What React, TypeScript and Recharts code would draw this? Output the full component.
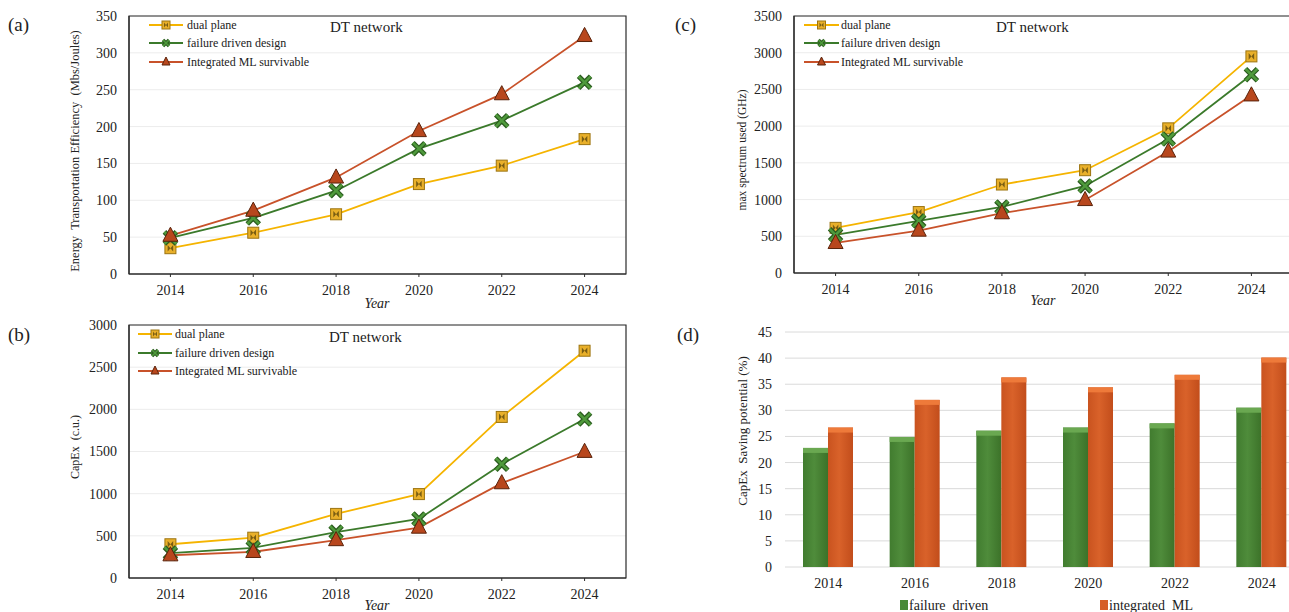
import { Bar, BarChart, CartesianGrid, Legend, Line, LineChart, ReferenceArea, XAxis, YAxis } from "recharts"

const SERIF = "'Liberation Serif', 'Times New Roman', Times, serif"

const years = [2014, 2016, 2018, 2020, 2022, 2024]
const yearTicks = [2014, 2016, 2018, 2020, 2022, 2024]
const barYears = ["2014", "2016", "2018", "2020", "2022", "2024"]

const seriesNames = ["dual plane", "failure driven design", "Integrated ML survivable"]
const barNames = ["failure  driven", "integrated  ML"]

// (a) energy transportation efficiency (Mbs/Joules)
const efficiencyDual = [35, 56, 81, 122, 147, 183]
const efficiencyFailure = [49, 76, 113, 170, 208, 260]
const efficiencyML = [52, 86, 131, 194, 244, 323]
const efficiencyTicks = [0, 50, 100, 150, 200, 250, 300, 350]

// (b) CapEx (c.u.)
const capexDual = [400, 478, 760, 995, 1910, 2695]
const capexFailure = [295, 358, 545, 700, 1350, 1885]
const capexML = [270, 310, 450, 598, 1125, 1497]
const capexTicks = [0, 500, 1000, 1500, 2000, 2500, 3000]

// (c) max spectrum used (GHz)
const spectrumDual = [615, 830, 1205, 1400, 1970, 2950]
const spectrumFailure = [520, 710, 900, 1185, 1825, 2700]
const spectrumML = [410, 578, 815, 995, 1655, 2420]
const spectrumTicks = [0, 500, 1000, 1500, 2000, 2500, 3000, 3500]

// (d) CapEx saving potential (%)
const savingFailure = [22.8, 24.9, 26.1, 26.7, 27.5, 30.5]
const savingML = [26.7, 32.0, 36.3, 34.4, 36.8, 40.1]
const savingTicks = [0, 5, 10, 15, 20, 25, 30, 35, 40, 45]

const COLORS = { dual: "#f5b400", failure: "#3b7a2b", ml: "#c8522a" }

const toLineData = (a: number[], b: number[], c: number[]) =>
  years.map((year, i) => ({ year, dual: a[i], failure: b[i], ml: c[i] }))

const efficiencyData = toLineData(efficiencyDual, efficiencyFailure, efficiencyML)
const capexData = toLineData(capexDual, capexFailure, capexML)
const spectrumData = toLineData(spectrumDual, spectrumFailure, spectrumML)
const savingData = barYears.map((year, i) => ({ year, failure: savingFailure[i], ml: savingML[i] }))

function SquareMark({ cx, cy, s = 11 }: { cx: number; cy: number; s?: number }) {
  const h = s / 2
  return (
    <g>
      <rect x={cx - h} y={cy - h} width={s} height={s} fill="#e9b02a" stroke="#9c7410" strokeWidth={1} />
      <path
        d={`M${cx - h * 0.5},${cy - h * 0.6}L${cx + h * 0.5},${cy + h * 0.6}L${cx + h * 0.5},${cy - h * 0.6}L${cx - h * 0.5},${cy + h * 0.6}Z`}
        fill="#4a3a08"
        opacity={0.7}
      />
    </g>
  )
}

function CrossMark({ cx, cy, s = 12 }: { cx: number; cy: number; s?: number }) {
  const h = s / 2
  const d = `M${cx - h},${cy - h}L${cx + h},${cy + h}M${cx + h},${cy - h}L${cx - h},${cy + h}`
  return (
    <g>
      <path d={d} stroke="#2b5c1f" strokeWidth={s > 9 ? 5 : 3.5} />
      <path d={d} stroke="#4f9a3c" strokeWidth={s > 9 ? 2.5 : 1.6} />
    </g>
  )
}

function TriMark({ cx, cy, s = 15 }: { cx: number; cy: number; s?: number }) {
  const h = s / 2
  return (
    <polygon
      points={`${cx},${cy - h - 1} ${cx + h},${cy + h * 0.75} ${cx - h},${cy + h * 0.75}`}
      fill="#b8471d"
      stroke="#5a230b"
      strokeWidth={1}
    />
  )
}

type DotProps = { cx?: number; cy?: number; index?: number }
const squareDot = (p: DotProps) => <SquareMark key={`s${p.index}`} cx={p.cx ?? 0} cy={p.cy ?? 0} />
const crossDot = (p: DotProps) => <CrossMark key={`c${p.index}`} cx={p.cx ?? 0} cy={p.cy ?? 0} />
const triDot = (p: DotProps) => <TriMark key={`t${p.index}`} cx={p.cx ?? 0} cy={p.cy ?? 0} />

interface LegendLayout {
  x0: number
  x1: number
  textX: number
  rows: number[]
  titleX: number
  titleY: number
}

function LineLegend({ x0, x1, textX, rows, titleX, titleY }: LegendLayout) {
  const mid = (x0 + x1) / 2
  const marks = [
    <SquareMark cx={mid} cy={rows[0]} s={8} />,
    <CrossMark cx={mid} cy={rows[1]} s={6} />,
    <TriMark cx={mid} cy={rows[2]} s={8} />,
  ]
  const cols = [COLORS.dual, COLORS.failure, COLORS.ml]
  return (
    <svg width={660} height={80} style={{ display: "block", overflow: "visible" }}>
      {seriesNames.map((name, i) => (
        <g key={name}>
          <line x1={x0} x2={x1} y1={rows[i]} y2={rows[i]} stroke={cols[i]} strokeWidth={2} />
          {marks[i]}
          <text x={textX} y={rows[i]} dominantBaseline="central" fontSize={12} fill="#222" fontFamily={SERIF}>
            {name}
          </text>
        </g>
      ))}
      <text x={titleX} y={titleY} dominantBaseline="central" fontSize={15} fill="#222" fontFamily={SERIF}>
        DT network
      </text>
    </svg>
  )
}

interface PanelProps {
  data: { year: number; dual: number; failure: number; ml: number }[]
  yTicks: number[]
  width: number
  height: number
  margin: { top: number; right: number; bottom: number; left: number }
  yAxisWidth: number
  yLabel: string
  yLabelX: number
  yLabelY: number
  yLabelSize: number
  yearX: number
  yearY: number
  legend: LegendLayout
}

function LinePanel(p: PanelProps) {
  const yMax = p.yTicks[p.yTicks.length - 1]
  return (
    <LineChart width={p.width} height={p.height} data={p.data} margin={p.margin}>
      <CartesianGrid vertical={false} stroke="#ececec" />
      <ReferenceArea x1={2013} x2={2025} y1={0} y2={yMax} fill="none" stroke="#2b2b2b" strokeWidth={1.2} />
      <XAxis
        type="number"
        dataKey="year"
        domain={[2013, 2025]}
        ticks={yearTicks}
        height={30}
        tickSize={3}
        tickMargin={8}
        axisLine={{ stroke: "#2b2b2b", strokeWidth: 1.2 }}
        tickLine={{ stroke: "#2b2b2b" }}
        tick={{ fontSize: 14, fill: "#222", fontFamily: SERIF }}
        label={() => (
          <text x={p.yearX} y={p.yearY} textAnchor="middle" dominantBaseline="central" fontSize={14} fontStyle="italic" fill="#222" fontFamily={SERIF}>
            Year
          </text>
        )}
      />
      <YAxis
        type="number"
        domain={[0, yMax]}
        ticks={p.yTicks}
        width={p.yAxisWidth}
        tickLine={false}
        tickSize={6}
        tickMargin={6}
        axisLine={{ stroke: "#2b2b2b", strokeWidth: 1.2 }}
        tick={{ fontSize: 14, fill: "#222", fontFamily: SERIF }}
        label={() => (
          <text
            x={p.yLabelX}
            y={p.yLabelY}
            textAnchor="middle"
            dominantBaseline="central"
            transform={`rotate(-90 ${p.yLabelX} ${p.yLabelY})`}
            fontSize={p.yLabelSize}
            fill="#222"
            fontFamily={SERIF}
            style={{ whiteSpace: "pre" }}
          >
            {p.yLabel}
          </text>
        )}
      />
      <Legend
        layout="horizontal"
        verticalAlign="middle"
        align="center"
        wrapperStyle={{ left: 0, top: 0, width: 660, height: 80 }}
        content={() => <LineLegend {...p.legend} />}
      />
      <Line dataKey="dual" stroke={COLORS.dual} strokeWidth={1.8} dot={squareDot} activeDot={false} isAnimationActive={false} />
      <Line dataKey="failure" stroke={COLORS.failure} strokeWidth={1.8} dot={crossDot} activeDot={false} isAnimationActive={false} />
      <Line dataKey="ml" stroke={COLORS.ml} strokeWidth={1.8} dot={triDot} activeDot={false} isAnimationActive={false} />
    </LineChart>
  )
}

type BarShapeProps = { x?: number; y?: number; width?: number; height?: number }
const makeBarShape = (grad: string, cap: string) => (props: BarShapeProps) => {
  const { x = 0, y = 0, width = 0, height = 0 } = props
  return (
    <g>
      <rect x={x} y={y} width={width} height={height} fill={`url(#${grad})`} />
      <rect x={x} y={y} width={width} height={Math.min(5, height)} fill={cap} />
    </g>
  )
}

function SavingPanel() {
  return (
    <BarChart width={670} height={302} data={savingData} margin={{ top: 22, right: 5, bottom: 20, left: 0 }} barGap={0}>
      <defs>
        <linearGradient id="gGreen" x1="0" x2="1" y1="0" y2="0">
          <stop offset="0%" stopColor="#417c2f" />
          <stop offset="45%" stopColor="#4f8c3b" />
          <stop offset="100%" stopColor="#3c7229" />
        </linearGradient>
        <linearGradient id="gOrange" x1="0" x2="1" y1="0" y2="0">
          <stop offset="0%" stopColor="#c9531f" />
          <stop offset="45%" stopColor="#d9622a" />
          <stop offset="100%" stopColor="#c24d1b" />
        </linearGradient>
      </defs>
      <CartesianGrid vertical={false} stroke="#dadada" />
      <XAxis
        dataKey="year"
        height={25}
        axisLine={false}
        tickLine={false}
        tickSize={6}
        tickMargin={5}
        tick={{ fontSize: 14, fill: "#222", fontFamily: SERIF }}
      />
      <YAxis
        domain={[0, 45]}
        ticks={savingTicks}
        width={145}
        axisLine={false}
        tickLine={false}
        tickSize={6}
        tickMargin={7}
        tick={{ fontSize: 14, fill: "#222", fontFamily: SERIF }}
        label={() => (
          <text
            x={102}
            y={121}
            textAnchor="middle"
            dominantBaseline="central"
            transform="rotate(-90 102 121)"
            fontSize={13}
            fill="#222"
            fontFamily={SERIF}
            style={{ whiteSpace: "pre" }}
          >
            {"CapEx  Saving potential (%)"}
          </text>
        )}
      />
      <Legend
        layout="horizontal"
        verticalAlign="middle"
        align="center"
        wrapperStyle={{ left: 0, top: 280, width: 670, height: 22 }}
        content={() => (
          <svg width={670} height={22} style={{ display: "block" }}>
            <rect x={260} y={10} width={8} height={10} fill="#4a8a36" />
            <text x={269} y={15} dominantBaseline="central" fontSize={14} fill="#222" fontFamily={SERIF} style={{ whiteSpace: "pre" }}>
              {barNames[0]}
            </text>
            <rect x={460} y={10} width={8} height={10} fill="#d65f26" />
            <text x={469} y={15} dominantBaseline="central" fontSize={14} fill="#222" fontFamily={SERIF} style={{ whiteSpace: "pre" }}>
              {barNames[1]}
            </text>
          </svg>
        )}
      />
      <Bar dataKey="failure" barSize={25} shape={makeBarShape("gGreen", "#6aa851")} isAnimationActive={false} />
      <Bar dataKey="ml" barSize={25} shape={makeBarShape("gOrange", "#ee7a3a")} isAnimationActive={false} />
    </BarChart>
  )
}

const panelLetter = (text: string, left: number, top: number) => (
  <div style={{ position: "absolute", left, top, fontSize: 19, lineHeight: "19px", fontFamily: SERIF, color: "#222" }}>{text}</div>
)

export default function App() {
  return (
    <div style={{ position: "absolute", left: 0, top: 0, width: 1289, height: 612, overflow: "hidden", background: "#fff", fontFamily: SERIF }}>
      {panelLetter("(a)", 8, 15)}
      {panelLetter("(c)", 675, 15)}
      {panelLetter("(b)", 8, 325)}
      {panelLetter("(d)", 677, 325)}

      <div style={{ position: "absolute", left: 0, top: 0 }}>
        <LinePanel
          data={efficiencyData}
          yTicks={efficiencyTicks}
          width={640}
          height={310}
          margin={{ top: 16, right: 14, bottom: 6, left: 0 }}
          yAxisWidth={129}
          yLabel="Energy  Transportation Efficiency  (Mbs/Joules)"
          yLabelX={75}
          yLabelY={151}
          yLabelSize={12.5}
          yearX={377}
          yearY={303}
          legend={{ x0: 149, x1: 183, textX: 187, rows: [25, 43, 62], titleX: 330, titleY: 27 }}
        />
      </div>

      <div style={{ position: "absolute", left: 0, top: 310 }}>
        <LinePanel
          data={capexData}
          yTicks={capexTicks}
          width={640}
          height={302}
          margin={{ top: 15, right: 14, bottom: 4, left: 0 }}
          yAxisWidth={129}
          yLabel="CapEx  (c.u.)"
          yLabelX={75}
          yLabelY={137}
          yLabelSize={12}
          yearX={377}
          yearY={295}
          legend={{ x0: 138, x1: 172, textX: 175, rows: [24, 43, 61], titleX: 329, titleY: 27 }}
        />
      </div>

      <div style={{ position: "absolute", left: 640, top: 0 }}>
        <LinePanel
          data={spectrumData}
          yTicks={spectrumTicks}
          width={660}
          height={310}
          margin={{ top: 16, right: 7, bottom: 7, left: 0 }}
          yAxisWidth={154}
          yLabel="max spectrum used (GHz)"
          yLabelX={102}
          yLabelY={150}
          yLabelSize={11.5}
          yearX={403}
          yearY={300}
          legend={{ x0: 164, x1: 199, textX: 201, rows: [25, 43, 62], titleX: 356, titleY: 27 }}
        />
      </div>

      <div style={{ position: "absolute", left: 640, top: 310 }}>
        <SavingPanel />
      </div>
    </div>
  )
}
